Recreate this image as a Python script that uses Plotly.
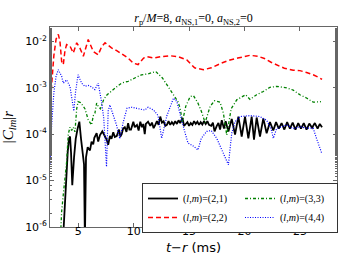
import plotly.graph_objects as go

# ---- data: t - r (ms) and log10(|C_lm| r) ----
t_21 = [3.62, 3.8, 3.95, 4.05, 4.17, 4.26, 4.35, 4.46, 4.62, 4.77, 4.95, 5.1, 5.25, 5.4, 5.52, 5.6,
        5.7, 5.85, 6.06, 6.2, 6.35, 6.45, 6.66, 6.8, 6.96, 7.17, 7.35, 7.57, 7.7, 7.86, 8.0, 8.16,
        8.3, 8.47, 8.68, 8.8, 8.92, 9.05, 9.2, 9.35, 9.5, 9.62, 9.76, 9.97, 10.1, 10.3, 10.45, 10.6,
        10.75, 10.87, 11.0, 11.1, 11.3, 11.5, 11.65, 11.8, 11.95, 12.1, 12.25, 12.4, 12.55, 12.7,
        12.85, 13.0, 13.15, 13.3, 13.45, 13.6, 13.75, 13.9, 14.05, 14.2, 14.4, 14.55, 14.7, 14.85,
        15.0, 15.15, 15.3, 15.45, 15.6, 15.75, 15.9, 16.05, 16.2, 16.35, 16.5, 16.65, 16.8, 17.0,
        17.15, 17.3, 17.5, 17.65, 17.8, 17.95, 18.15, 18.3, 18.55, 18.85, 19.15, 19.45, 19.75,
        20.05, 20.35, 20.65, 20.86, 21.1, 21.4, 21.7, 22.0, 22.3, 22.6, 22.85, 23.1, 23.35, 23.6,
        23.85, 24.1, 24.35, 24.6, 24.85, 25.1, 25.35, 25.6, 25.85, 26.1, 26.35, 26.6, 26.8, 27.0]
log_21 = [-6.3, -5.38, -4.8, -4.38, -4.09, -4.05, -4.4, -5.1, -4.5, -4.1, -3.87, -3.73, -4.1, -4.45, -4.65, -6.3,
          -4.5, -4.28, -4.35, -4.16, -4.22, -4.08, -3.98, -4.16, -4.02, -3.94, -4.02, -4.12, -4.23, -4.04, -4.1, -3.96,
          -4.06, -4.04, -3.9, -4.05, -4.0, -3.88, -3.85, -3.95, -3.76, -3.9, -3.9, -3.73, -3.85, -3.8, -3.92, -3.73,
          -3.85, -3.78, -4.0, -3.78, -3.73, -3.82, -3.75, -3.87, -3.8, -3.72, -3.8, -3.62, -3.75, -3.72,
          -3.82, -3.8, -3.72, -3.8, -3.74, -3.79, -3.72, -3.78, -3.7, -3.76, -3.65, -3.82, -3.78, -3.74,
          -3.82, -3.76, -3.8, -3.72, -3.78, -3.73, -3.8, -3.74, -3.79, -3.72, -3.78, -3.72, -3.8, -3.82,
          -3.75, -3.94, -3.82, -3.76, -3.9, -3.7, -3.88, -3.72, -3.94, -3.67, -4.01, -3.62, -4.05,
          -3.62, -4.09, -3.62, -4.12, -3.64, -4.05, -3.66, -3.98, -3.74, -3.92, -3.74, -3.88, -3.76, -3.9,
          -3.74, -3.88, -3.75, -3.9, -3.76, -3.88, -3.76, -3.9, -3.77, -3.86, -3.76, -3.88, -3.78, -3.85]

t_22 = [2.45, 2.6, 2.8, 3.0, 3.2, 3.35, 3.5, 3.65, 3.8, 3.95, 4.25, 4.55, 4.86, 5.16, 5.46, 5.9,
        6.36, 6.8, 7.1, 7.42, 8.0, 8.47, 9.06, 9.5, 9.97, 10.4, 10.9, 11.2, 11.8, 12.4, 13.3, 14.0,
        14.8, 15.5, 16.3, 17.0, 17.9, 18.7, 19.4, 20.5, 21.2, 21.8, 22.4, 23.0, 23.6, 24.4, 25.0,
        25.6, 26.2, 26.8, 27.0]
log_22 = [-3.4, -2.9, -2.3, -1.95, -1.85, -2.0, -2.43, -2.5, -2.2, -2.07, -2.1, -2.25, -2.03, -2.15, -2.32, -1.96,
          -2.22, -2.29, -2.12, -2.03, -2.14, -2.2, -2.29, -2.36, -2.47, -2.5, -2.36, -2.33, -2.36, -2.33, -2.31, -2.33,
          -2.4, -2.57, -2.61, -2.57, -2.47, -2.4, -2.36, -2.3, -2.32, -2.37, -2.45, -2.52, -2.58, -2.62, -2.63,
          -2.67, -2.72, -2.79, -2.82]

t_33 = [3.4, 3.5, 3.65, 3.8, 3.95, 4.1, 4.25, 4.4, 4.55, 4.7, 4.86, 4.98, 5.2, 5.4, 5.6, 5.9, 6.2,
        6.36, 6.5, 6.66, 6.8, 7.0, 7.3, 7.6, 8.0, 8.46, 8.9, 9.5, 10.1, 10.7, 11.3, 12.0, 12.6, 13.1,
        13.5, 14.0, 14.2, 14.4, 14.7, 15.1, 15.4, 15.8, 16.1, 16.45, 16.9, 17.3, 17.8, 18.1, 18.4,
        18.8, 19.3, 19.7, 20.1, 20.5, 21.1, 21.7, 22.3, 22.9, 23.8, 24.4, 25.0, 25.6, 26.2, 26.9]
log_33 = [-6.2, -5.67, -5.3, -5.0, -4.6, -4.0, -3.85, -3.92, -3.85, -3.95, -3.45, -3.3, -3.32, -3.38, -3.45, -3.69, -3.8,
          -3.6, -3.55, -3.33, -3.4, -3.45, -3.25, -3.15, -3.08, -2.98, -2.9, -2.86, -2.79, -2.72, -2.7, -2.65, -2.79, -2.97,
          -3.12, -3.3, -3.45, -3.73, -3.4, -3.19, -3.17, -3.33, -3.5, -3.75, -3.4, -3.28, -3.31, -3.55, -4.02,
          -3.45, -3.26, -3.2, -3.15, -3.25, -3.15, -3.08, -2.99, -2.97, -3.0, -3.05, -3.15, -3.22, -3.31, -3.3]

t_44 = [2.45, 2.6, 2.8, 3.0, 3.2, 3.5, 3.65, 3.95, 4.25, 4.6, 4.75, 4.98, 5.3, 5.6, 5.9, 6.2, 6.5,
        6.8, 7.1, 7.3, 7.55, 7.7, 7.85, 8.15, 8.45, 8.75, 9.05, 9.4, 9.85, 10.4, 11.0, 11.3, 11.8,
        12.2, 12.53, 13.0, 13.6, 13.9, 14.2, 14.6, 14.9, 15.4, 15.8, 16.1, 16.6, 17.0, 17.5, 17.8,
        18.55, 18.85, 19.15, 19.6, 20.5, 21.4, 22.0, 22.4, 22.6, 22.9, 23.3, 23.8, 24.4, 25.0, 25.6,
        26.2, 26.5, 26.97]
log_44 = [-4.65, -3.8, -3.1, -2.75, -2.61, -2.75, -2.9, -2.83, -2.97, -3.5, -3.1, -2.72, -2.9, -2.97, -2.95, -2.98, -3.04,
          -2.9, -3.3, -3.65, -4.7, -3.5, -3.37, -3.6, -3.8, -4.1, -3.75, -3.44, -3.42, -3.45, -3.48, -3.42, -3.48,
          -3.6, -4.09, -3.6, -3.22, -3.3, -3.6, -3.94, -4.19, -4.26, -4.34, -4.09, -3.94, -3.92, -4.09, -4.25,
          -4.66, -3.98, -3.73, -3.62, -3.6, -3.62, -3.7, -3.88, -4.09, -3.88, -3.85, -3.8, -3.88, -3.84, -3.87,
          -3.87, -4.09, -4.41]

y_tick_vals = [1e-6, 1e-5, 1e-4, 1e-3, 1e-2]
y_tick_text = ["10<sup>-6</sup>", "10<sup>-5</sup>", "10<sup>-4</sup>", "10<sup>-3</sup>", "10<sup>-2</sup>"]
x_tick_vals = [5, 10, 15, 20, 25]

labels = {
    "21": "(<i>l</i>,<i>m</i>)=(2,1)",
    "22": "(<i>l</i>,<i>m</i>)=(2,2)",
    "33": "(<i>l</i>,<i>m</i>)=(3,3)",
    "44": "(<i>l</i>,<i>m</i>)=(4,4)",
}

def lin(vals):
    return [10 ** v for v in vals]

fig = go.Figure()
fig.add_trace(go.Scatter(x=t_21, y=lin(log_21), mode="lines", name=labels["21"], legendrank=1,
                         line=dict(color="black", width=1.8)))
fig.add_trace(go.Scatter(x=t_22, y=lin(log_22), mode="lines", name=labels["22"], legendrank=3,
                         line=dict(color="#ff0000", width=1.5, dash="5px,3px")))
fig.add_trace(go.Scatter(x=t_33, y=lin(log_33), mode="lines", name=labels["33"], legendrank=2,
                         line=dict(color="#008000", width=1.3, dash="3px,2px,1px,2px")))
fig.add_trace(go.Scatter(x=t_44, y=lin(log_44), mode="lines", name=labels["44"], legendrank=4,
                         line=dict(color="#0000ff", width=1.2, dash="1px,1.5px")))

axis_color = "#666666"
serif = "Liberation Serif, DejaVu Serif, serif"
sans = "DejaVu Sans, sans-serif"

fig.update_layout(
    template="none",
    width=349, height=267,
    margin=dict(l=50, r=12, t=27, b=40, autoexpand=False),
    paper_bgcolor="white", plot_bgcolor="white",
    title=dict(text="<i>r</i><sub>p</sub>/<i>M</i>=8, <i>a</i><sub>NS,1</sub>=0, <i>a</i><sub>NS,2</sub>=0",
               x=0.5, xref="paper", xanchor="center", y=1 - 18 / 267, yanchor="middle",
               font=dict(family=serif, size=12, color="black")),
    xaxis=dict(range=[2.45, 28.35], tickvals=x_tick_vals, ticks="inside", ticklen=4,
               tickcolor=axis_color, showline=True, linecolor=axis_color, linewidth=1,
               mirror="ticks", showgrid=False, zeroline=False, automargin=True,
               ticklabelstandoff=-6,
               tickfont=dict(family=sans, size=11, color="black"),
               title=dict(text="<i>t</i>−<i>r</i> (ms)", standoff=5,
                          font=dict(family=sans, size=13, color="black"))),
    yaxis=dict(type="log", range=[-6, -1.69], tickvals=y_tick_vals, ticktext=y_tick_text,
               ticks="inside", ticklen=4, tickcolor=axis_color, showline=True, linecolor=axis_color,
               linewidth=1, mirror="ticks", showgrid=False, zeroline=False, automargin=False,
               minor=dict(ticks="inside", ticklen=2, tickcolor=axis_color, showgrid=False),
               tickfont=dict(family=sans, size=11, color="black"),
               title=dict(text="|<i>C</i><sub><i>lm</i></sub>|<i>r</i>",
                          font=dict(family=serif, size=15, color="black"))),
    legend=dict(orientation="h", x=0.3206, y=0.22, xanchor="left", yanchor="top",
                bgcolor="white", bordercolor="#333333", borderwidth=1,
                entrywidth=52, font=dict(family=serif, size=10, color="black"),
                traceorder="normal"),
    showlegend=True,
)

fig.write_html("out.html", config={"displayModeBar": False},
               post_script="document.body.style.margin='0px';")
